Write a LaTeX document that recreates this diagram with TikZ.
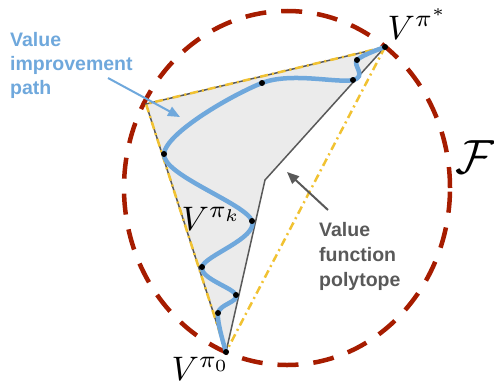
\documentclass[tikz,border=0pt]{standalone}
\usepackage{fontspec}
\newfontfamily\labelfont{Liberation Sans}
\usetikzlibrary{arrows.meta}

\definecolor{pathblue}{HTML}{6FA8DC}
\definecolor{setred}{HTML}{A61C00}
\definecolor{hullyellow}{HTML}{F1C232}
\definecolor{edgegray}{HTML}{595959}
\definecolor{polygray}{HTML}{EBEBEB}

\tikzset{
  setline/.style={setred, line width=4.5pt, dash pattern=on 21pt off 15pt},
  polyedge/.style={edgegray, line width=1.5pt},
  hull/.style={hullyellow, line width=2.5pt, dash pattern=on 8pt off 4pt on 2pt off 4pt},
  vpath/.style={pathblue, line width=4.5pt, line cap=round, line join=round},
  vdot/.style={circle, fill=black, minimum size=6pt, inner sep=0pt},
  vlabel/.style={anchor=base west, inner sep=0pt, scale=3.4},
  note/.style={anchor=north west, inner sep=0pt, align=left, font=\labelfont\bfseries\fontsize{19.5}{24}\selectfont},
  pointer/.style={line width=2pt, -{Triangle[length=12pt,width=10pt]}}
}

\begin{document}
\begin{tikzpicture}[x=1pt, y=1pt]
\useasboundingbox (0,0) rectangle (494,-388);

% ===== 可行集 F =====
\draw[setline] (287,-188) ellipse [x radius=163, y radius=177];

% ===== 顶点 =====
\coordinate (v0) at (226,-352);
\coordinate (tl) at (146,-104);
\coordinate (vs) at (385,-47);
\coordinate (inner) at (265,-180);

% ===== 值函数多面体 =====
\fill[polygray] (v0) -- (tl) -- (vs) -- (inner) -- cycle;
\draw[polyedge] (v0) -- (tl) -- (vs) -- (inner) -- cycle;
\draw[hull] (v0) -- (tl) -- (vs);
\draw[hull] (vs) -- (v0);

% ===== 路径上的点 =====
\coordinate (p1) at (218,-313);
\coordinate (p2) at (236,-295);
\coordinate (p3) at (202,-267);
\coordinate (pk) at (252,-221);
\coordinate (p5) at (164,-154);
\coordinate (p6) at (262,-83);
\coordinate (p7) at (353,-80);
\coordinate (p8) at (357,-60);

% ===== 值改进路径 =====
\draw[vpath] plot[smooth, tension=0.55] coordinates
  {(v0) (p1) (p2) (p3) (pk) (p5) (p6) (p7) (p8) (vs)};

\foreach \p in {v0,p1,p2,p3,pk,p5,p6,p7,p8,vs}
  \node[vdot] (d\p) at (\p) {};

% ===== 标注 =====
\node[vlabel] (lstar) at (387,-39) {$V^{\pi^*}$};
\node[vlabel] (lk) at (181,-230) {$V^{\pi_k}$};
\node[vlabel] (l0) at (171,-380) {$V^{\pi_0}$};
\node[anchor=base west, inner sep=0pt, scale=4.8] (lF) at (455,-173) {$\mathcal F$};

\node[note, text=pathblue] (tpath) at (10,-32) {Value\\improvement\\path};
\node[note, text=edgegray, font=\labelfont\bfseries\fontsize{19.5}{25}\selectfont] (tpoly) at (319,-222) {Value\\function\\polytope};

\coordinate (apath) at (108,-78);
\coordinate (hpath) at (180,-117);
\coordinate (apoly) at (328,-210);
\coordinate (hpoly) at (287,-172);
\draw[pointer, pathblue] (apath) -- (hpath);
\draw[pointer, edgegray] (apoly) -- (hpoly);

\end{tikzpicture}
\end{document}
